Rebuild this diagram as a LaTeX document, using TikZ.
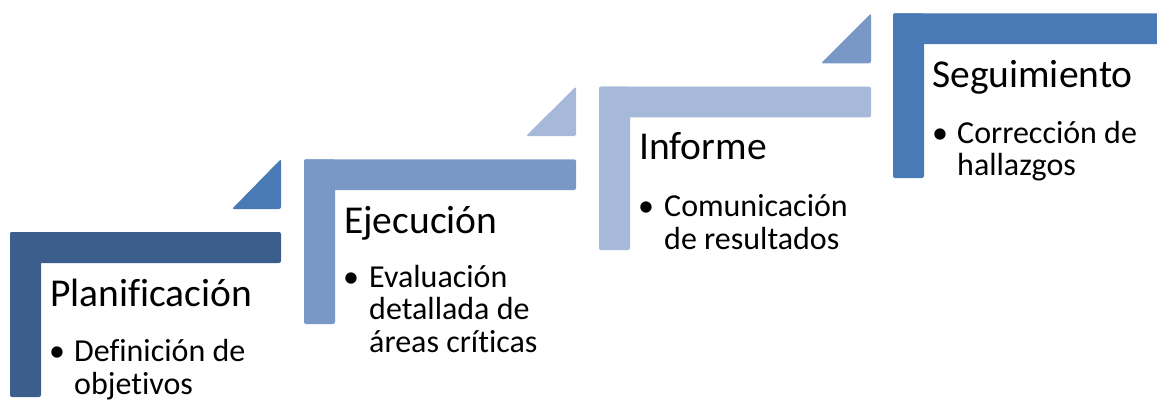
\documentclass[tikz,border=0pt]{standalone}
\usepackage{fontspec}
\setmainfont[Ligatures=NoCommon]{Carlito}
\definecolor{cA}{RGB}{59,94,140}
\definecolor{cB}{RGB}{122,152,198}
\definecolor{cC}{RGB}{167,185,216}
\definecolor{cD}{RGB}{74,122,181}
\tikzset{
  barpart/.style={rounded corners=2pt},
  headtext/.style={anchor=base west,inner sep=0pt,font=\fontsize{39.5}{40}\selectfont},
  bullettext/.style={anchor=base west,inner sep=0pt,font=\fontsize{32}{32.5}\selectfont},
  bulletdot/.style={anchor=base,inner sep=0pt,font=\fontsize{32}{32.5}\selectfont}
}
\begin{document}
\begin{tikzpicture}[x=1pt,y=-1pt]
\useasboundingbox (0,0) rectangle (1157,400);
% step 1
\fill[cA,barpart] (10,232) rectangle (281,263);
\fill[cA,barpart] (10,232) rectangle (41,397);
\fill[cD,barpart] (232,209) -- (281,209) -- (281,159) -- cycle;
\node[headtext] (h1) at (50,306.5) {Planificación};
\node[bulletdot] (b1) at (57,361.5) {•};
\node[bullettext] (t1) at (74,361.5) {\parbox[t]{200pt}{\raggedright Definición de\\objetivos}};
% step 2
\fill[cB,barpart] (304,159.3) rectangle (576,190);
\fill[cB,barpart] (304,159.3) rectangle (335,324);
\fill[cC,barpart] (526,136) -- (576,136) -- (576,86.5) -- cycle;
\node[headtext] (h2) at (344,233.5) {Ejecución};
\node[bulletdot] (b2) at (351,287) {•};
\node[bullettext] (t2) at (369,287) {\parbox[t]{200pt}{\raggedright Evaluación\\detallada de\\áreas críticas}};
% step 3
\fill[cC,barpart] (599,86.7) rectangle (871,117.3);
\fill[cC,barpart] (599,86.7) rectangle (630,250);
\fill[cB,barpart] (821,63.3) -- (871,63.3) -- (871,13.3) -- cycle;
\node[headtext] (h3) at (639,159.3) {Informe};
\node[bulletdot] (b3) at (646,216.5) {•};
\node[bullettext] (t3) at (664,216.5) {\parbox[t]{220pt}{\raggedright Comunicación\\de resultados}};
% step 4
\fill[cD,barpart] (893,13.3) rectangle (1165,44);
\fill[cD,barpart] (893,13.3) rectangle (924,178);
\node[headtext] (h4) at (932,87) {Seguimiento};
\node[bulletdot] (b4) at (940,143) {•};
\node[bullettext] (t4) at (957,143) {\parbox[t]{200pt}{\raggedright Corrección de\\hallazgos}};
\end{tikzpicture}
\end{document}
